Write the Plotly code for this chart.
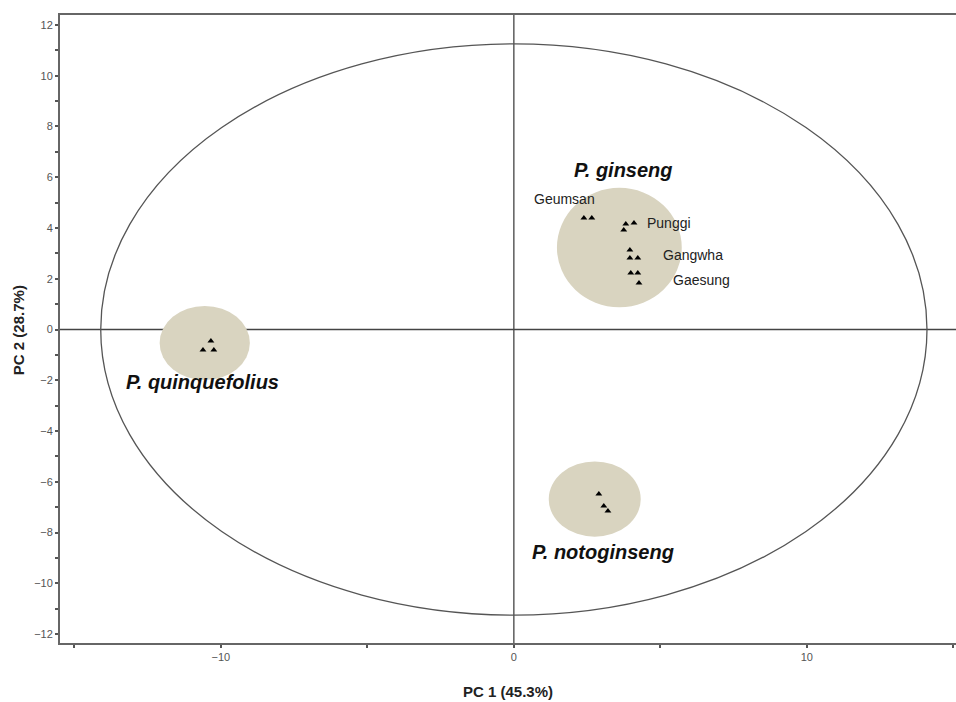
import plotly.graph_objects as go

# ---------------- data ----------------
groups = ["P. ginseng", "P. quinquefolius", "P. notoginseng"]

# sample scores (PC1, PC2)
ginseng_sites = ["Geumsan", "Punggi", "Gangwha", "Gaesung"]
ginseng_pc1 = [2.39, 2.66, 3.82, 4.10, 3.75, 3.96, 3.96, 4.23, 3.99, 4.23, 4.27]
ginseng_pc2 = [4.39, 4.39, 4.16, 4.20, 3.92, 3.13, 2.82, 2.82, 2.23, 2.23, 1.83]

quinq_pc1 = [-10.34, -10.61, -10.24]
quinq_pc2 = [-0.45, -0.81, -0.81]

noto_pc1 = [2.90, 3.07, 3.21]
noto_pc2 = [-6.48, -6.95, -7.15]

# group ellipses: centre x, centre y, radius x, radius y
group_cx = [3.60, -10.55, 2.76]
group_cy = [3.23, -0.53, -6.68]
group_rx = [2.13, 1.54, 1.57]
group_ry = [2.35, 1.46, 1.48]

# Hotelling T2 ellipse semi-axes
t2_a = 14.1
t2_b = 11.25

# labels
group_label_x = [3.75, -10.61, 3.04]
group_label_y = [6.28, -2.07, -8.77]
site_label_x = [1.74, 5.31, 6.11, 6.42]
site_label_y = [5.14, 4.18, 2.92, 1.95]

x_ticks = [-10, 0, 10]
y_ticks = [-12, -10, -8, -6, -4, -2, 0, 2, 4, 6, 8, 10, 12]

x_title = "PC 1 (45.3%)"
y_title = "PC 2 (28.7%)"

# ---------------- figure ----------------
X_RANGE = [-15.49, 15.09]
Y_RANGE = [-12.35, 12.39]
FILL = "#d9d4c0"
LINE = "#555555"

fig = go.Figure()

shapes = []
# zero lines
shapes.append(dict(type="line", xref="x", yref="y", x0=X_RANGE[0], x1=X_RANGE[1], y0=0, y1=0,
                   line=dict(color="#444444", width=1.3), layer="below"))
shapes.append(dict(type="line", xref="x", yref="y", x0=0, x1=0, y0=Y_RANGE[0], y1=Y_RANGE[1],
                   line=dict(color="#444444", width=1.3), layer="below"))
# T2 ellipse
shapes.append(dict(type="circle", xref="x", yref="y", x0=-t2_a, x1=t2_a, y0=-t2_b, y1=t2_b,
                   line=dict(color=LINE, width=1.3), layer="below"))
# group ellipses
for cx, cy, rx, ry in zip(group_cx, group_cy, group_rx, group_ry):
    shapes.append(dict(type="circle", xref="x", yref="y", x0=cx - rx, x1=cx + rx,
                       y0=cy - ry, y1=cy + ry, fillcolor=FILL, line=dict(width=0),
                       layer="below"))

marker = dict(symbol="triangle-up", size=6, color="black")
fig.add_trace(go.Scatter(x=ginseng_pc1, y=ginseng_pc2, mode="markers", marker=marker,
                         name=groups[0], showlegend=False))
fig.add_trace(go.Scatter(x=quinq_pc1, y=quinq_pc2, mode="markers", marker=marker,
                         name=groups[1], showlegend=False))
fig.add_trace(go.Scatter(x=noto_pc1, y=noto_pc2, mode="markers", marker=marker,
                         name=groups[2], showlegend=False))

annotations = []
for g, x, y in zip(groups, group_label_x, group_label_y):
    annotations.append(dict(x=x, y=y, xref="x", yref="y", text="<b><i>%s</i></b>" % g,
                            showarrow=False, font=dict(family="Liberation Sans, Arial", size=20,
                                                       color="#111111")))
for s, x, y in zip(ginseng_sites, site_label_x, site_label_y):
    annotations.append(dict(x=x, y=y, xref="x", yref="y", text=s, showarrow=False,
                            font=dict(family="Liberation Sans, Arial", size=14, color="#222222")))
annotations.append(dict(x=0.5, y=-0.078, xref="paper", yref="paper", text="<b>%s</b>" % x_title,
                        showarrow=False, yanchor="middle",
                        font=dict(family="Liberation Sans, Arial", size=15, color="#222222")))
annotations.append(dict(x=-0.047, y=0.498, xref="paper", yref="paper", text="<b>%s</b>" % y_title,
                        showarrow=False, textangle=-90, xanchor="center", yanchor="middle",
                        font=dict(family="Liberation Sans, Arial", size=15, color="#222222")))

axis_common = dict(showgrid=False, zeroline=False, showline=True, linecolor="#666666",
                   linewidth=2, ticks="outside", ticklen=3, tickwidth=1.5, tickcolor="#555555",
                   tickfont=dict(family="Liberation Sans, Arial", size=11, color="#555555"))

fig.update_layout(
    width=956, height=702,
    margin=dict(l=60, r=0, t=15, b=59),
    paper_bgcolor="white", plot_bgcolor="white",
    shapes=shapes, annotations=annotations,
    xaxis=dict(range=X_RANGE, tickvals=x_ticks, mirror=True,
               minor=dict(dtick=5, tick0=0, ticks="outside", ticklen=3, tickcolor="#555555"),
               **axis_common),
    yaxis=dict(range=Y_RANGE, tickvals=y_ticks, mirror=False,
               minor=dict(dtick=1, tick0=0, ticks="outside", ticklen=3, tickcolor="#555555"),
               **axis_common),
)

fig.write_html("out.html", config={"displayModeBar": False},
               post_script="document.body.style.margin='0px';document.body.style.overflow='hidden';")
